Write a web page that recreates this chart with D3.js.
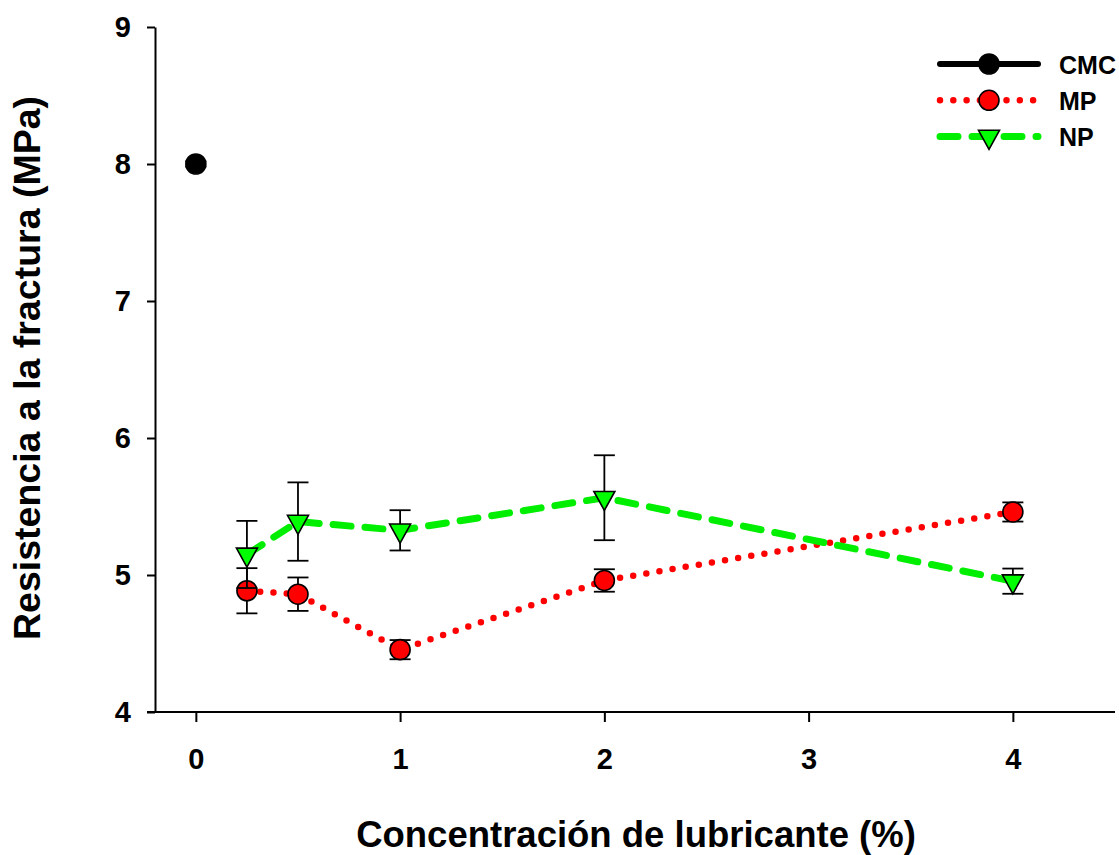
<!DOCTYPE html>
<html>
<head>
<meta charset="utf-8">
<script src="https://cdn.jsdelivr.net/npm/d3@7"></script>
<style>
  html, body { margin: 0; padding: 0; background: #fff; }
  svg { display: block; }
  text { font-family: "Liberation Sans", Arial, sans-serif; font-weight: bold; fill: #000; }
</style>
</head>
<body>
<svg id="chart" width="1119" height="855"></svg>
<script>
// Lubricant concentration (%) per series
const cmcX = [0];
const mpX = [0.25, 0.5, 1, 2, 4];
const npX = [0.25, 0.5, 1, 2, 4];

// Fracture strength (MPa) means and standard deviations
const cmcY = [8.0];
const cmcErr = [0.02];
const mpY = [4.885, 4.86, 4.455, 4.96, 5.46];
const mpErr = [0.165, 0.122, 0.07, 0.082, 0.07];
const npY = [5.15, 5.39, 5.326, 5.564, 4.955];
const npErr = [0.245, 0.286, 0.147, 0.31, 0.092];

// Axis ticks
const xTicks = [0, 1, 2, 3, 4];
const yTicks = [4, 5, 6, 7, 8, 9];

const seriesNames = ["CMC", "MP", "NP"];

const svg = d3.select("#chart");

const x = d3.scaleLinear().domain([-0.2, 4.5]).range([155, 1115]);
const y = d3.scaleLinear().domain([4, 9]).range([712, 27]);

// Axes
const xAxis = d3.axisBottom(x).tickValues(xTicks).tickFormat(d3.format("d"))
  .tickSizeInner(10).tickSizeOuter(0).tickPadding(26);
const yAxis = d3.axisLeft(y).tickValues(yTicks).tickFormat(d3.format("d"))
  .tickSizeInner(8).tickSizeOuter(0).tickPadding(16);

const gx = svg.append("g").attr("transform", "translate(0,712)").call(xAxis);
const gy = svg.append("g").attr("transform", "translate(155,0)").call(yAxis);
[gx, gy].forEach(g => {
  g.selectAll("path.domain").attr("stroke", "#000").attr("stroke-width", 2);
  g.selectAll(".tick line").attr("stroke", "#000").attr("stroke-width", 2);
  g.selectAll(".tick text").style("font-size", "29px")
    .style("font-family", "'Liberation Sans', Arial, sans-serif").style("font-weight", "bold");
});
// x axis baseline extends to the left under the y tick at 4
gx.select("path.domain").attr("d", `M147,0H1115`);

// Axis titles
svg.append("text")
  .attr("x", 636).attr("y", 847)
  .attr("text-anchor", "middle")
  .style("font-size", "36.5px")
  .text("Concentración de lubricante (%)");

svg.append("text")
  .attr("transform", "translate(40,368) rotate(-90)")
  .attr("text-anchor", "middle")
  .style("font-size", "37.5px")
  .text("Resistencia a la fractura (MPa)");

const line = d3.line().x(d => x(d[0])).y(d => y(d[1]));

const styles = {
  CMC: { color: "#000", width: 6, dash: null, shape: "circle", fill: "#000" },
  MP: { color: "#ff0000", width: 6.5, dash: "0 13.3", shape: "circle", fill: "#ff0000" },
  NP: { color: "#00ee00", width: 7, dash: "18 14", shape: "triangle", fill: "#00ff00" }
};

const triPath = "M-10.5,-6.3L10.5,-6.3L0,12.7Z";

function drawSymbol(g, shape, cx, cy, fill) {
  if (shape === "circle") {
    g.append("circle").attr("cx", cx).attr("cy", cy).attr("r", 10)
      .attr("fill", fill).attr("stroke", "#000").attr("stroke-width", 1.6);
  } else {
    g.append("path").attr("d", triPath).attr("transform", `translate(${cx},${cy})`)
      .attr("fill", fill).attr("stroke", "#000").attr("stroke-width", 1.6)
      .attr("stroke-linejoin", "miter");
  }
}

function drawSeries(name, xs, ys, errs) {
  const st = styles[name];
  const g = svg.append("g").attr("class", "series-" + name);
  const pts = xs.map((v, i) => [v, ys[i]]);
  if (pts.length > 1) {
    g.append("path").datum(pts).attr("d", line)
      .attr("fill", "none").attr("stroke", st.color).attr("stroke-width", st.width)
      .attr("stroke-linecap", "round").attr("stroke-dasharray", st.dash);
  }
  // error bars
  pts.forEach((p, i) => {
    const cx = x(p[0]);
    const y1 = y(p[1] + errs[i]), y2 = y(p[1] - errs[i]);
    g.append("line").attr("x1", cx).attr("x2", cx).attr("y1", y1).attr("y2", y2)
      .attr("stroke", "#000").attr("stroke-width", 1.8);
    [y1, y2].forEach(yy => g.append("line")
      .attr("x1", cx - 10.5).attr("x2", cx + 10.5).attr("y1", yy).attr("y2", yy)
      .attr("stroke", "#000").attr("stroke-width", 1.8));
  });
  pts.forEach(p => drawSymbol(g, st.shape, x(p[0]), y(p[1]), st.fill));
}

drawSeries("CMC", cmcX, cmcY, cmcErr);
drawSeries("MP", mpX, mpY, mpErr);
drawSeries("NP", npX, npY, npErr);

// Legend
const legend = svg.append("g").attr("class", "legend");
seriesNames.forEach((name, i) => {
  const st = styles[name];
  const ly = 64 + i * 36.3;
  legend.append("line").attr("x1", 940).attr("x2", 1038).attr("y1", ly).attr("y2", ly)
    .attr("stroke", st.color).attr("stroke-width", st.width)
    .attr("stroke-linecap", "round").attr("stroke-dasharray", st.dash);
  drawSymbol(legend, st.shape, 989, ly, st.fill);
  legend.append("text").attr("x", 1059).attr("y", ly + 9.5)
    .style("font-size", "25px").text(name);
});
</script>
</body>
</html>
